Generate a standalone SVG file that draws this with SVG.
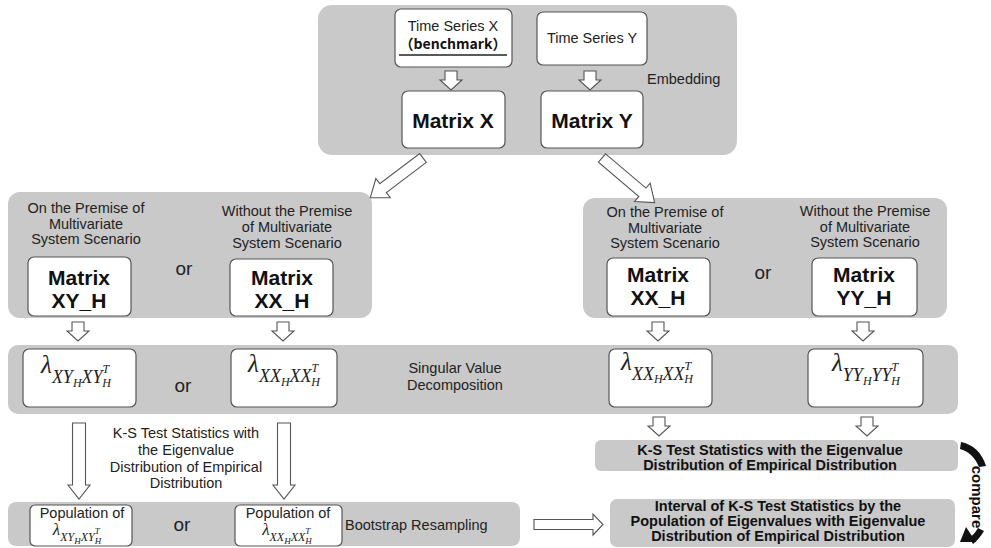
<svg xmlns="http://www.w3.org/2000/svg" width="991" height="548" viewBox="0 0 991 548">
<style>
.panel{fill:#c9c9c9;stroke:none}
.box{fill:#fff;stroke:#555;stroke-width:1.2}
.ha{fill:#fff;stroke:#555;stroke-width:1.1;stroke-linejoin:miter}
.t{font-family:"Liberation Sans",Arial,sans-serif;fill:#222;font-size:14.5px;text-anchor:middle}
.tl{font-family:"Liberation Sans",Arial,sans-serif;fill:#222;font-size:14.5px}
.b{font-weight:bold;fill:#111}
.cjk{font-family:"Noto Sans CJK SC","Noto Sans CJK JP",sans-serif;font-weight:bold;fill:#111;font-size:14px;text-anchor:middle}
.mx{font-family:"Liberation Sans",Arial,sans-serif;font-weight:bold;fill:#111;font-size:21px;text-anchor:middle}
.or{font-family:"Liberation Sans",Arial,sans-serif;fill:#222;font-size:19px;text-anchor:middle}
.m{font-family:"Liberation Serif","Times New Roman",serif;font-style:italic;fill:#222;text-anchor:middle}
</style>
<defs>
<path id="dn" d="M-6,0 H6 V9 H11 L0,19 L-11,9 H-6 Z"/>
<path id="dnL" d="M-6.5,0 H6.5 V62 H11 L0,76 L-11,62 H-6.5 Z"/>
</defs>

<g id="panel-embedding">
<rect class="panel" x="318" y="5" width="419" height="150" rx="14"/>
<text class="tl" x="647" y="84">Embedding</text>
</g>
<g id="node-ts-x">
<rect class="box" x="395" y="9" width="117" height="58" rx="6"/>
<text class="t" x="453" y="31">Time Series X</text>
<text class="cjk" x="453" y="49">（benchmark）</text>
<line x1="399" y1="55" x2="507" y2="55" stroke="#222" stroke-width="1.3"/>
</g>
<g id="node-ts-y">
<rect class="box" x="537" y="12" width="110" height="53" rx="6"/>
<text class="t" x="592" y="43">Time Series Y</text>
</g>
<g id="node-matrix-x">
<rect class="box" x="402" y="91" width="103" height="57" rx="6"/>
<text class="mx" x="453" y="128" font-size="22">Matrix X</text>
</g>
<g id="node-matrix-y">
<rect class="box" x="541" y="91" width="102" height="57" rx="6"/>
<text class="mx" x="592" y="128" font-size="22">Matrix Y</text>
</g>

<g id="panel-left">
<rect class="panel" x="8" y="192" width="364" height="126" rx="12"/>
<text class="t" x="86" y="213">On the Premise of</text>
<text class="t" x="86" y="229">Multivariate</text>
<text class="t" x="86" y="244">System Scenario</text>
<text class="t" x="287" y="216">Without the Premise</text>
<text class="t" x="287" y="232">of Multivariate</text>
<text class="t" x="287" y="248">System Scenario</text>
<text class="or" x="184" y="275">or</text>
</g>
<g id="node-matrix-xyh">
<rect class="box" x="28" y="257" width="103" height="59" rx="6"/>
<text class="mx" x="79" y="285">Matrix</text>
<text class="mx" x="79" y="308">XY_H</text>
</g>
<g id="node-matrix-xxh-left">
<rect class="box" x="230" y="259" width="103" height="57" rx="6"/>
<text class="mx" x="282" y="285">Matrix</text>
<text class="mx" x="282" y="308">XX_H</text>
</g>

<g id="panel-right">
<rect class="panel" x="583" y="198" width="364" height="120" rx="12"/>
<text class="t" x="665" y="217">On the Premise of</text>
<text class="t" x="665" y="233">Multivariate</text>
<text class="t" x="665" y="248">System Scenario</text>
<text class="t" x="865" y="216">Without the Premise</text>
<text class="t" x="865" y="232">of Multivariate</text>
<text class="t" x="865" y="247">System Scenario</text>
<text class="or" x="763" y="279">or</text>
</g>
<g id="node-matrix-xxh-right">
<rect class="box" x="607" y="258" width="103" height="58" rx="6"/>
<text class="mx" x="658" y="282">Matrix</text>
<text class="mx" x="658" y="305">XX_H</text>
</g>
<g id="node-matrix-yyh">
<rect class="box" x="812" y="258" width="105" height="58" rx="6"/>
<text class="mx" x="864" y="282">Matrix</text>
<text class="mx" x="864" y="305">YY_H</text>
</g>

<g id="panel-svd">
<rect class="panel" x="8" y="345" width="950" height="69" rx="10"/>
<text class="or" x="183" y="392">or</text>
<text class="t" x="455" y="373">Singular Value</text>
<text class="t" x="455" y="390">Decomposition</text>
</g>
<g id="node-lambda-xy">
<rect class="box" x="23" y="349" width="113" height="58" rx="6"/>
<text class="m" x="76" y="373"><tspan font-size="25">λ</tspan><tspan font-size="18" dy="10">XY</tspan><tspan font-size="12" dy="4">H</tspan><tspan font-size="18" dy="-4">XY</tspan><tspan font-size="12" dy="-10">T</tspan><tspan font-size="12" dx="-7" dy="14">H</tspan></text>
</g>
<g id="node-lambda-xx-left">
<rect class="box" x="231" y="349" width="106" height="58" rx="6"/>
<text class="m" x="284" y="372"><tspan font-size="25">λ</tspan><tspan font-size="18" dy="10">XX</tspan><tspan font-size="12" dy="4">H</tspan><tspan font-size="18" dy="-4">XX</tspan><tspan font-size="12" dy="-10">T</tspan><tspan font-size="12" dx="-7" dy="14">H</tspan></text>
</g>
<g id="node-lambda-xx-right">
<rect class="box" x="609" y="349" width="103" height="58" rx="6"/>
<text class="m" x="657" y="370"><tspan font-size="25">λ</tspan><tspan font-size="18" dy="10">XX</tspan><tspan font-size="12" dy="3">H</tspan><tspan font-size="18" dy="-3">XX</tspan><tspan font-size="12" dy="-10">T</tspan><tspan font-size="12" dx="-7" dy="13">H</tspan></text>
</g>
<g id="node-lambda-yy">
<rect class="box" x="808" y="349" width="115" height="58" rx="6"/>
<text class="m" x="866" y="371"><tspan font-size="25">λ</tspan><tspan font-size="18" dy="10">YY</tspan><tspan font-size="12" dy="4">H</tspan><tspan font-size="18" dy="-4">YY</tspan><tspan font-size="12" dy="-10">T</tspan><tspan font-size="12" dx="-7" dy="14">H</tspan></text>
</g>

<g id="label-ks-left">
<text class="t" x="186" y="438">K-S Test Statistics with</text>
<text class="t" x="186" y="455">the Eigenvalue</text>
<text class="t" x="186" y="472">Distribution of Empirical</text>
<text class="t" x="186" y="488">Distribution</text>
</g>

<g id="panel-bootstrap">
<rect class="panel" x="8" y="502" width="512" height="44" rx="8"/>
<text class="or" x="182" y="531">or</text>
<text class="tl" x="345" y="530" font-size="15">Bootstrap Resampling</text>
</g>
<g id="node-pop-xy">
<rect class="box" x="30" y="505" width="102" height="41" rx="5"/>
<text class="t" x="82" y="518" font-size="15">Population of</text>
<text class="m" x="77" y="535"><tspan font-size="17">λ</tspan><tspan font-size="12" dy="6">XY</tspan><tspan font-size="9" dy="3">H</tspan><tspan font-size="12" dy="-3">XY</tspan><tspan font-size="9" dy="-7">T</tspan><tspan font-size="9" dx="-5" dy="10">H</tspan></text>
</g>
<g id="node-pop-xx">
<rect class="box" x="235" y="505" width="107" height="41" rx="5"/>
<text class="t" x="288" y="518" font-size="15">Population of</text>
<text class="m" x="287" y="535"><tspan font-size="17">λ</tspan><tspan font-size="12" dy="6">XX</tspan><tspan font-size="9" dy="3">H</tspan><tspan font-size="12" dy="-3">XX</tspan><tspan font-size="9" dy="-7">T</tspan><tspan font-size="9" dx="-5" dy="10">H</tspan></text>
</g>

<g id="node-ks-right">
<rect class="panel" x="595" y="440" width="363" height="31" rx="6"/>
<text class="t b" x="770" y="455">K-S Test Statistics with the Eigenvalue</text>
<text class="t b" x="770" y="470">Distribution of Empirical Distribution</text>
</g>
<g id="node-interval">
<rect class="panel" x="610" y="499" width="345" height="48" rx="7"/>
<text class="t b" x="778" y="511">Interval of K-S Test Statistics by the</text>
<text class="t b" x="778" y="526">Population of Eigenvalues with Eigenvalue</text>
<text class="t b" x="778" y="541">Distribution of Empirical Distribution</text>
</g>

<g id="connectors">
<use href="#dn" class="ha" x="451" y="71"/>
<use href="#dn" class="ha" x="590" y="71"/>
<path class="ha" transform="translate(423,158) rotate(143)" d="M0,-5.5 H50 V-12 L66,0 L50,12 V5.5 H0 Z"/>
<path class="ha" transform="translate(602,158) rotate(40.3)" d="M0,-5.5 H53 V-12 L69,0 L53,12 V5.5 H0 Z"/>
<use href="#dn" class="ha" x="78" y="322"/>
<use href="#dn" class="ha" x="283" y="322"/>
<use href="#dn" class="ha" x="658" y="322"/>
<use href="#dn" class="ha" x="863" y="322"/>
<use href="#dn" class="ha" x="659" y="417"/>
<use href="#dn" class="ha" x="867" y="417"/>
<use href="#dnL" class="ha" x="79" y="423"/>
<use href="#dnL" class="ha" x="284" y="423"/>
<path class="ha" d="M534,519.5 H593 V514 L603,524.5 L593,535 V529.5 H534 Z"/>
<path d="M961,442 C972,444 982,452 986,466 L979,467 C975,457 968,451 960,449 Z" fill="#111"/>
<path d="M978,528 C975,533 972,536 969,538 L973,544 C977,541 981,536 984,531 Z" fill="#111"/>
<polygon points="960,542 966,527 976,542" fill="#111"/>
<text class="b" transform="translate(972,497) rotate(90)" font-family="Liberation Sans, Arial, sans-serif" font-size="15" text-anchor="middle">compare</text>
</g>
</svg>
